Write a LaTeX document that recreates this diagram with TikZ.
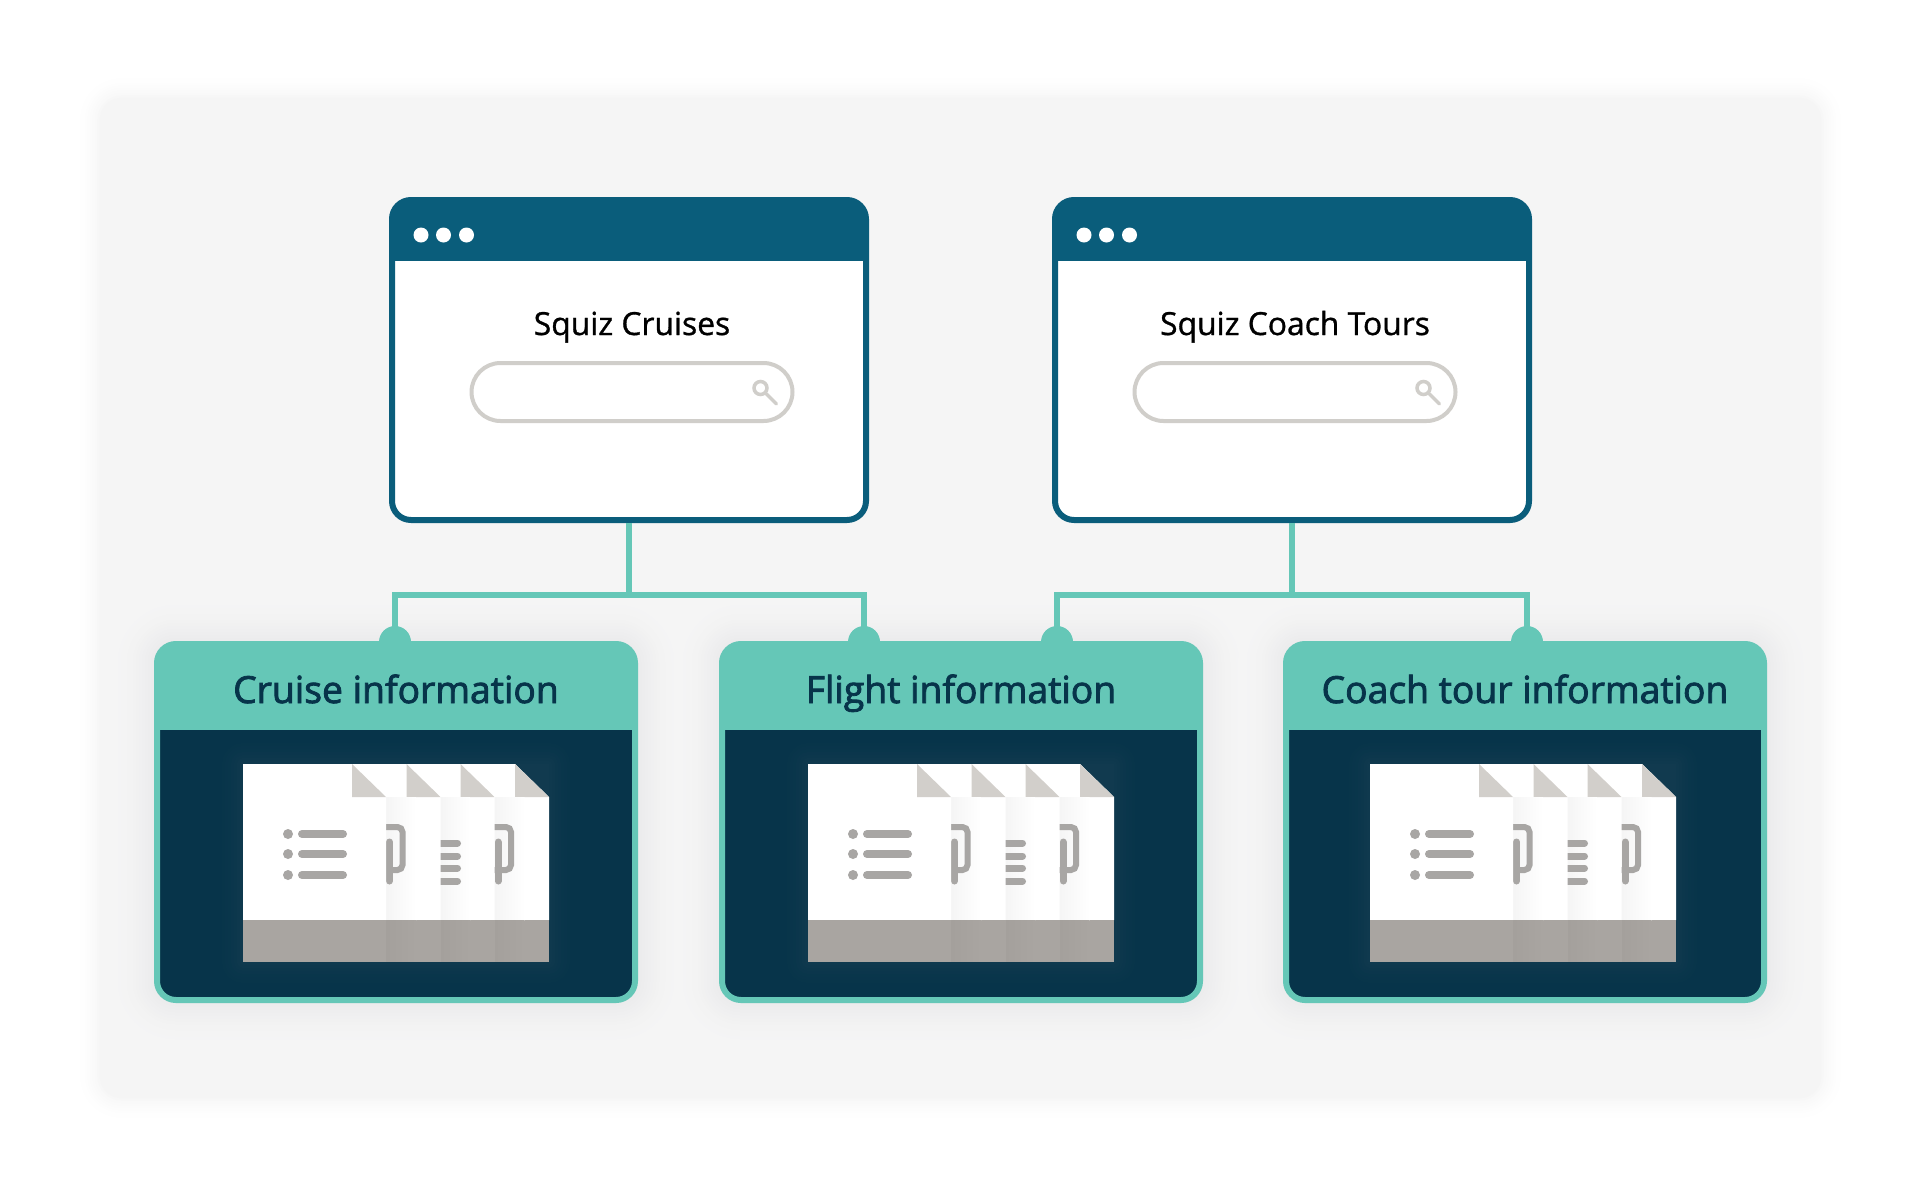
\documentclass[tikz,border=0pt]{standalone}
\usepackage{fontspec}
\setmainfont{Open Sans}
\newfontfamily\cardfont[RawFeature={embolden=2.2}]{Open Sans}
\newfontfamily\sitefont[RawFeature={embolden=1.0}]{Open Sans}
\usetikzlibrary{positioning,backgrounds}
\definecolor{panelgray}{HTML}{F5F5F5}
\definecolor{cardglow}{HTML}{EBEBEC}
\definecolor{docglow}{HTML}{113A4F}
\definecolor{windowblue}{HTML}{0A5D7B}
\definecolor{linkteal}{HTML}{65C7B7}
\definecolor{carddark}{HTML}{07344A}
\definecolor{foldgray}{HTML}{D2CFCB}
\definecolor{bandgray}{HTML}{A9A5A1}
\definecolor{banddark}{HTML}{A4A09C}
\definecolor{icongray}{HTML}{A8A6A4}
\definecolor{searchgray}{HTML}{D0CECA}
% soft edge round a node: node, steps, pitch, inner colour, outer colour
\newcommand\halo[5]{
  \foreach \k in {#2,...,0} {
    \pgfmathsetmacro\grow{\k*#3}
    \pgfmathsetmacro\tint{100*(1-\k/(#2+1))^2}
    \fill[#4!\tint!#5, rounded corners=22pt+\grow pt]
      ([xshift=-\grow pt,yshift=-\grow pt]#1.south west) rectangle
      ([xshift=\grow pt,yshift=\grow pt]#1.north east);
  }
}
\tikzset{
  panelbox/.style={minimum width=1721pt, minimum height=1000pt},
  windowbox/.style={draw=windowblue, fill=white, line width=6pt, rounded corners=19pt,
    minimum width=474pt, minimum height=320pt,
    path picture={\fill[windowblue, sharp corners] (path picture bounding box.north west) rectangle
      ([yshift=-61pt]path picture bounding box.north east);}},
  cardbox/.style={draw=linkteal, fill=carddark, line width=6pt, rounded corners=19pt,
    minimum width=478pt, minimum height=356pt,
    path picture={\fill[linkteal, sharp corners] (path picture bounding box.north west) rectangle
      ([yshift=-86pt]path picture bounding box.north east);}},
  searchbar/.style={draw=searchgray, fill=white, line width=4pt, rounded corners=29pt,
    minimum width=321pt, minimum height=58pt},
  lens/.style={circle, draw=searchgray, line width=3.5pt, inner sep=0pt, minimum size=13pt},
  sitetitle/.style={font=\sitefont\fontsize{31.8}{32}\selectfont, text=black, anchor=base, inner sep=0pt},
  cardtitle/.style={font=\cardfont\fontsize{37.3}{37}\selectfont, text=carddark, anchor=base, inner sep=0pt},
  bump/.style={circle, fill=linkteal, minimum size=32pt, inner sep=0pt},
  link/.style={draw=linkteal, line width=6pt},
  iconline/.style={draw=icongray, line cap=round},
  pics/docsheet/.style={code={
    \fill[white] (0,0) -- (109,0) -- (143,33) -- (143,156) -- (0,156) -- cycle;
    \fill[foldgray] (109,0) -- (143,33) -- (109,33) -- cycle;
    \fill[bandgray] (0,156) rectangle (143,198);
  }},
  pics/sheetshade/.style={code={
    \shade[left color=black!4, right color=white] (88.5,33) rectangle (118.5,156);
    \shade[left color=banddark, right color=bandgray] (88.5,156.5) rectangle (118.5,197.5);
  }},
  pics/mugicon/.style={code={
    \draw[icongray, line width=6pt, rounded corners=5pt] (60,63) -- (105,63) -- (105,106) -- (60,106);
    \draw[iconline, line width=7pt] (92,78) -- (92,117);
  }},
  pics/docstack/.style={code={
    \foreach \k in {9,...,0} {
      \pgfmathsetmacro\grow{\k*3}
      \pgfmathsetmacro\tint{100*(1-\k/10)^2}
      \fill[docglow!\tint!carddark, rounded corners=\grow pt]
        (-\grow,-\grow) rectangle (306+\grow,198+\grow);
    }
    \pic at (163,0) {docsheet};
    \pic at (163,0) {sheetshade};
    \pic at (163,0) {mugicon};
    \pic at (108.5,0) {docsheet};
    \pic at (108.5,0) {sheetshade};
    \foreach \rowy in {79,92,104,117}
      \draw[iconline, line width=7pt] (169,\rowy) -- (214.5,\rowy);
    \pic at (54.5,0) {docsheet};
    \pic at (54.5,0) {sheetshade};
    \pic at (54.5,0) {mugicon};
    \pic at (0,0) {docsheet};
    \foreach \rowy in {70,90,111} {
      \fill[icongray] (45,\rowy) circle (5pt);
      \draw[iconline, line width=8pt] (59,\rowy) -- (100,\rowy);
    }
  }},
  pics/windots/.style={code={
    \foreach \dotx in {32,54.5,77.5}
      \fill[white] (\dotx,38) circle (7.5pt);
  }}
}

\begin{document}
\begin{tikzpicture}[x=1pt,y=-1pt]
  \useasboundingbox (0,0) rectangle (1920,1200);
  \node [panelbox] (panel) at (960.5,598) {};

  % cards
  \node [cardbox] (cruise) at (396,822) {};
  \node [cardbox, right=81pt of cruise] (flight) {};
  \node [cardbox, right=80pt of flight] (coach) {};
  \node [cardtitle] (cruise title) at ([yshift=-62pt]cruise.north) {Cruise information};
  \node [cardtitle] (flight title) at ([yshift=-62pt]flight.north) {Flight information};
  \node [cardtitle] (coach title) at ([yshift=-62pt]coach.north) {Coach tour information};
  \pic at ([xshift=89pt,yshift=-123pt]cruise.north west) {docstack};
  \pic at ([xshift=89pt,yshift=-123pt]flight.north west) {docstack};
  \pic at ([xshift=87pt,yshift=-123pt]coach.north west) {docstack};

  % soft edges
  \begin{scope}[on background layer]
    \fill[white] (0,0) rectangle (1920,1200);
    \halo{panel}{9}{2.4}{panelgray}{white}
    \halo{cruise}{15}{3}{cardglow}{panelgray}
    \halo{flight}{15}{3}{cardglow}{panelgray}
    \halo{coach}{15}{3}{cardglow}{panelgray}
  \end{scope}

  % windows
  \node [windowbox] (cruises) at (629,360) {};
  \node [windowbox, right=183pt of cruises] (tours) {};
  \pic at (cruises.north west) {windots};
  \pic at (tours.north west) {windots};
  \node [searchbar] (cruises search) at ([xshift=3pt,yshift=-32pt]cruises.center) {};
  \node [searchbar] (tours search) at ([xshift=3pt,yshift=-32pt]tours.center) {};
  \node [sitetitle] (cruises name) at ([yshift=26pt]cruises search.north) {Squiz Cruises};
  \node [sitetitle] (tours name) at ([yshift=26pt]tours search.north) {Squiz Coach Tours};
  \node [lens] (cruises lens) at ([xshift=-34pt,yshift=4pt]cruises search.east) {};
  \node [lens] (tours lens) at ([xshift=-34pt,yshift=4pt]tours search.east) {};
  \draw[searchgray, line width=3.5pt, line cap=round] (cruises lens.south east) -- ++(10,10);
  \draw[searchgray, line width=3.5pt, line cap=round] (tours lens.south east) -- ++(10,10);

  % connectors
  \coordinate [below=71.5pt of cruises] (cruises fork);
  \coordinate [below=71.5pt of tours] (tours fork);
  \node [bump] (dot a) at ([xshift=-1pt,yshift=-1pt]cruise.north) {};
  \node [bump] (dot b) at ([xshift=-97pt,yshift=-1pt]flight.north) {};
  \node [bump] (dot c) at ([xshift=96pt,yshift=-1pt]flight.north) {};
  \node [bump] (dot d) at ([xshift=2pt,yshift=-1pt]coach.north) {};
  \draw[link] (cruises.south) -- (cruises fork);
  \draw[link] (tours.south) -- (tours fork);
  \draw[link] (dot a.center) |- (cruises fork) -| (dot b.center);
  \draw[link] (dot c.center) |- (tours fork) -| (dot d.center);
\end{tikzpicture}
\end{document}
